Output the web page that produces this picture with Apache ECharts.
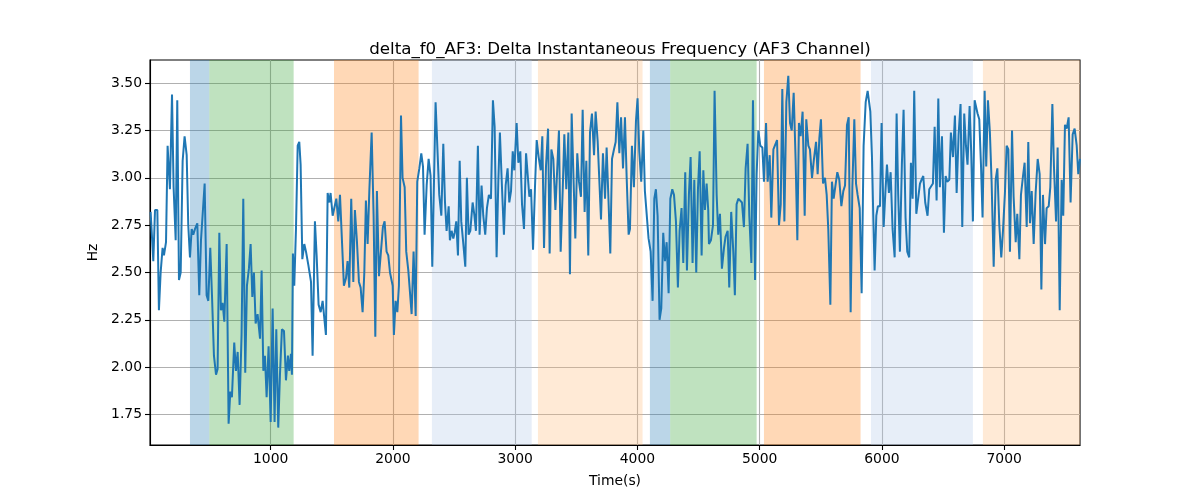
<!DOCTYPE html>
<html>
<head>
<meta charset="utf-8">
<script src="https://cdn.jsdelivr.net/npm/echarts@6/dist/echarts.min.js"></script>
<style>html,body{margin:0;padding:0;background:#fff}#c{width:1200px;height:500px}</style>
</head>
<body>
<div id="c"></div>
<script>
const times = [18,40,54,73,86,100,116,127,144,157,176,193,206,223,236,250,264,280,296,313,326,340,354,367,381,400,416,430,444,460,476,490,506,520,536,553,566,580,593,607,621,640,656,670,683,702,716,730,746,762,776,792,806,822,836,850,863,877,893,
913,926,940,953,967,983,1000,1016,1032,1046,1062,1076,1092,1109,1125,1141,1152,1166,1174,1182,1193,1207,1221,1234,1245,1259,1275,1289,1308,1330,1343,1362,1376,1392,1409,1425,1439,1452,1466,1480,1490,1507,1520,1537,1553,1567,1583,1599,1616,1629,1643,1659,1676,1689,1706,1722,1736,1752,1766,1779,1793,1807,1826,1842,1856,1869,1886,1902,1918,1932,1948,1962,1976,
1987,1998,2008,2022,2036,2049,2066,2079,2096,2109,2126,2139,2153,2169,2186,2199,2216,2232,2246,2259,2276,2292,2308,2322,2349,2366,2379,2396,2412,2426,2439,2456,2466,2480,2494,2505,2518,2532,2546,2559,2576,2592,2605,2619,2633,2652,2665,2679,2695,2709,2725,2739,2755,2769,2785,2802,2818,2832,2848,2862,2875,2892,2908,2922,2938,2952,
2966,2980,2993,3012,3026,3042,3056,3072,3089,3102,3116,3130,3146,3162,3176,3192,3209,3222,3236,3252,3269,3282,3296,3312,3329,3342,3358,3372,3389,3402,3418,3435,3448,3462,3478,3492,3508,3522,3538,3552,3568,3582,3598,3612,3628,3645,3658,3675,3688,3702,3718,3735,3748,3765,3778,3792,3808,3822,3836,3852,3866,3882,3898,3912,3928,3939,
3955,3971,3988,4001,4015,4031,4048,4061,4075,4091,4108,4124,4138,4151,4165,4181,4195,4211,4225,4239,4255,4269,4285,4299,4315,4331,4345,4361,4375,4391,4405,4421,4435,4451,4465,4481,4495,4509,4525,4539,4552,4566,4579,4585,4601,4618,4631,4648,4661,4675,4691,4708,4721,4738,4751,4767,4784,4797,4811,4825,4838,4855,4871,4885,4901,4915,
4932,4945,4962,4975,4989,5005,5022,5035,5052,5065,5082,5095,5112,5128,5142,5158,5172,5185,5202,5218,5234,5248,5262,5278,5294,5308,5321,5335,5351,5368,5381,5398,5411,5428,5444,5461,5474,5488,5501,5518,5534,5548,5561,5578,5591,5605,5621,5635,5651,5668,5684,5698,5714,5728,5744,5758,5774,5788,5801,5818,5834,5850,5867,5883,5899,
5905,5918,5929,5940,5954,5967,5984,5997,6014,6027,6041,6057,6071,6087,6104,6120,6133,6147,6163,6177,6193,6207,6223,6237,6251,6264,6281,6297,6311,6324,6338,6354,6373,6387,6403,6417,6431,6447,6461,6474,6491,6507,6521,6534,6551,6564,6581,6597,6611,6627,6643,6657,6673,6687,6700,6717,6730,6744,6758,6769,6782,6796,6810,6823,6840,6853,6867,6883,
6897,6914,6930,6944,6960,6976,6990,7006,7020,7034,7047,7064,7077,7094,7107,7124,7137,7154,7167,7184,7197,7211,7225,7241,7257,7274,7290,7304,7317,7334,7347,7364,7377,7394,7407,7424,7437,7454,7470,7483,7497,7511,7527,7543,7560,7576,7593,7606,7620];
const values = [2.82,2.56,2.83,2.83,2.30,2.50,2.63,2.59,2.66,3.17,2.94,3.44,2.95,2.67,3.41,2.46,2.50,3.09,3.22,3.12,2.75,2.58,2.73,2.70,2.73,2.76,2.38,2.67,2.66,2.97,2.38,2.35,2.63,2.38,2.06,1.96,1.99,2.71,2.30,2.34,2.24,2.65,1.70,1.87,1.84,2.13,1.98,2.08,1.80,2.17,2.89,1.97,2.43,2.52,2.65,2.37,2.50,2.23,2.28,
2.15,2.51,1.98,2.06,1.84,2.11,1.71,2.31,1.71,2.20,1.68,1.96,2.20,2.19,1.93,2.06,1.98,2.07,1.96,2.60,2.43,2.73,3.17,3.19,3.07,2.57,2.65,2.61,2.54,2.45,2.06,2.77,2.59,2.33,2.29,2.35,2.35,2.17,2.92,2.87,2.92,2.80,2.79,2.89,2.77,2.91,2.90,2.43,2.47,2.56,2.42,2.89,2.45,2.83,2.66,2.45,2.42,2.29,2.50,2.88,2.65,2.93,3.24,2.80,2.16,2.93,2.48,2.61,2.74,2.77,2.61,2.59,2.50,
2.50,2.43,2.17,2.35,2.29,2.43,3.33,3.00,2.95,2.61,2.51,2.52,2.28,2.61,2.27,2.98,3.05,3.13,3.06,2.70,2.96,3.10,3.01,2.53,3.40,3.12,2.91,2.80,3.18,2.87,2.72,2.85,2.67,2.72,2.68,2.71,2.77,2.59,3.09,2.77,2.65,2.53,3.00,2.70,2.72,2.87,2.81,2.72,3.17,2.70,2.96,2.80,2.70,2.84,2.91,2.89,3.41,3.27,2.58,2.98,3.24,2.95,2.70,2.96,3.05,2.87,
2.93,3.14,3.04,3.29,3.08,3.14,2.86,2.73,3.13,3.12,2.90,2.94,2.62,2.95,3.20,3.11,3.04,3.22,2.63,3.06,3.26,2.60,3.15,3.10,2.83,2.83,3.25,2.61,2.94,3.23,2.94,3.24,2.49,3.34,2.98,2.68,3.13,2.98,2.90,3.36,2.82,3.09,2.59,3.24,3.34,3.12,3.35,3.19,3.20,2.78,3.13,2.89,3.16,2.85,2.60,3.10,3.15,3.19,3.40,3.13,3.32,3.05,3.32,3.00,2.70,2.73,
3.17,2.95,3.30,3.42,3.14,2.98,3.25,2.93,2.92,2.68,2.61,2.35,2.89,2.94,2.80,2.25,2.31,2.71,2.56,2.66,2.39,2.89,2.94,2.91,2.77,2.42,2.72,2.84,2.55,3.03,2.51,2.91,3.11,2.55,2.99,2.50,2.94,3.14,2.59,3.04,2.83,2.97,2.83,2.65,2.67,2.75,3.46,2.91,2.70,2.81,2.52,2.63,2.69,2.72,2.42,2.82,2.61,2.38,2.86,2.89,2.89,2.87,2.74,3.05,3.18,2.80,
2.55,3.41,2.46,3.02,3.25,3.17,3.16,2.98,3.29,2.98,3.12,2.79,3.15,3.16,3.20,2.75,2.86,3.47,2.77,3.40,3.54,3.29,3.25,3.45,3.09,2.67,3.29,3.22,3.35,2.80,3.31,3.17,3.15,3.00,3.10,3.19,3.02,3.21,3.31,2.97,3.00,2.91,2.73,2.33,2.98,2.89,2.89,3.03,2.99,2.85,2.93,2.96,3.28,3.32,2.29,2.95,3.31,2.97,2.91,2.84,2.39,3.17,3.40,3.46,3.46,
3.35,3.12,2.80,2.51,2.80,2.85,2.85,3.29,2.74,2.91,3.07,2.92,3.03,2.73,2.58,3.34,2.91,2.61,3.07,3.36,2.79,2.61,2.58,3.08,2.89,3.46,2.81,2.80,2.97,2.99,3.01,2.87,2.80,2.94,2.94,2.97,3.27,2.88,3.42,2.95,3.22,2.71,3.01,2.98,2.99,3.24,3.11,3.33,2.92,3.23,3.39,2.74,3.34,3.17,3.07,3.38,3.14,2.77,3.41,3.40,3.34,3.31,3.07,2.79,3.46,3.06,3.41,3.24,
2.98,2.53,2.99,3.05,2.75,2.58,2.72,2.92,3.17,3.15,2.61,3.25,2.90,2.66,2.81,2.57,2.91,3.01,3.08,2.74,3.19,2.76,2.93,2.65,2.92,3.10,3.02,2.41,2.91,2.65,2.84,2.85,2.95,3.39,3.06,2.77,3.16,2.30,2.99,2.80,3.28,3.26,3.32,2.87,3.23,3.26,3.17,3.02,3.10];

const spanStarts = [340, 498, 1518, 2319, 3186, 4102, 4268, 5035, 5910, 6826];
const spanEnds   = [498, 1188, 2210, 3135, 4042, 4268, 4975, 5825, 6744, 7620];
const spanKinds  = ['blue','green','orange','lightblue','lightorange','blue','green','orange','lightblue','lightorange'];

const xTicks = [1000, 2000, 3000, 4000, 5000, 6000, 7000];
const yTicks = [1.75, 2.00, 2.25, 2.50, 2.75, 3.00, 3.25, 3.50];

const kindColor = {blue:'#1f77b4', green:'#2ca02c', orange:'#ff7f0e', lightblue:'#aec7e8', lightorange:'#ffbb78'};
const lineData = times.map((t, i) => [t, values[i]]);
const areas = spanStarts.map((s, i) => [
  {xAxis: s, itemStyle: {color: kindColor[spanKinds[i]], opacity: 0.3}},
  {xAxis: spanEnds[i]}
]);

const font = 'DejaVu Sans';
const chart = echarts.init(document.getElementById('c'), null, {renderer: 'canvas'});
chart.setOption({
  animation: false,
  backgroundColor: '#fff',
  title: {
    text: 'delta_f0_AF3: Delta Instantaneous Frequency (AF3 Channel)',
    left: 615, top: 36, textAlign: 'center',
    textStyle: {fontFamily: font, fontSize: 16.7, fontWeight: 'normal', color: '#000'}
  },
  grid: {left: 150, right: 120, top: 60, bottom: 55, show: true, borderColor: '#000', borderWidth: 1.1, backgroundColor: 'transparent'},
  xAxis: {
    type: 'value', min: 13, max: 7620,
    name: 'Time(s)', nameLocation: 'middle', nameGap: 29,
    nameTextStyle: {fontFamily: font, fontSize: 13.9, color: '#000'},
    axisLine: {show: true, lineStyle: {color: '#000', width: 1.1}},
    axisTick: {show: true, length: 5, lineStyle: {color: '#000', width: 1.1}, customValues: xTicks},
    axisLabel: {fontFamily: font, fontSize: 13.9, color: '#000', margin: 7, customValues: xTicks, formatter: v => String(v)},
    splitLine: {show: true, lineStyle: {color: '#b0b0b0', width: 1.1}}
  },
  yAxis: {
    type: 'value', min: 1.588, max: 3.623,
    name: 'Hz', nameLocation: 'middle', nameGap: 46,
    nameTextStyle: {fontFamily: font, fontSize: 13.9, color: '#000'},
    axisLine: {show: true, lineStyle: {color: '#000', width: 1.1}},
    axisTick: {show: true, length: 5, lineStyle: {color: '#000', width: 1.1}, customValues: yTicks},
    axisLabel: {fontFamily: font, fontSize: 13.9, color: '#000', margin: 8, customValues: yTicks, formatter: v => v.toFixed(2)},
    splitLine: {show: true, lineStyle: {color: '#b0b0b0', width: 1.1}}
  },
  series: [
    {
      type: 'line', data: [], z: 1, silent: true,
      markArea: {silent: true, data: areas}
    },
    {
      type: 'line', data: lineData, z: 3, showSymbol: false, symbol: 'none',
      lineStyle: {color: '#1f77b4', width: 2}, itemStyle: {color: '#1f77b4'}
    }
  ]
});
</script>
</body>
</html>
